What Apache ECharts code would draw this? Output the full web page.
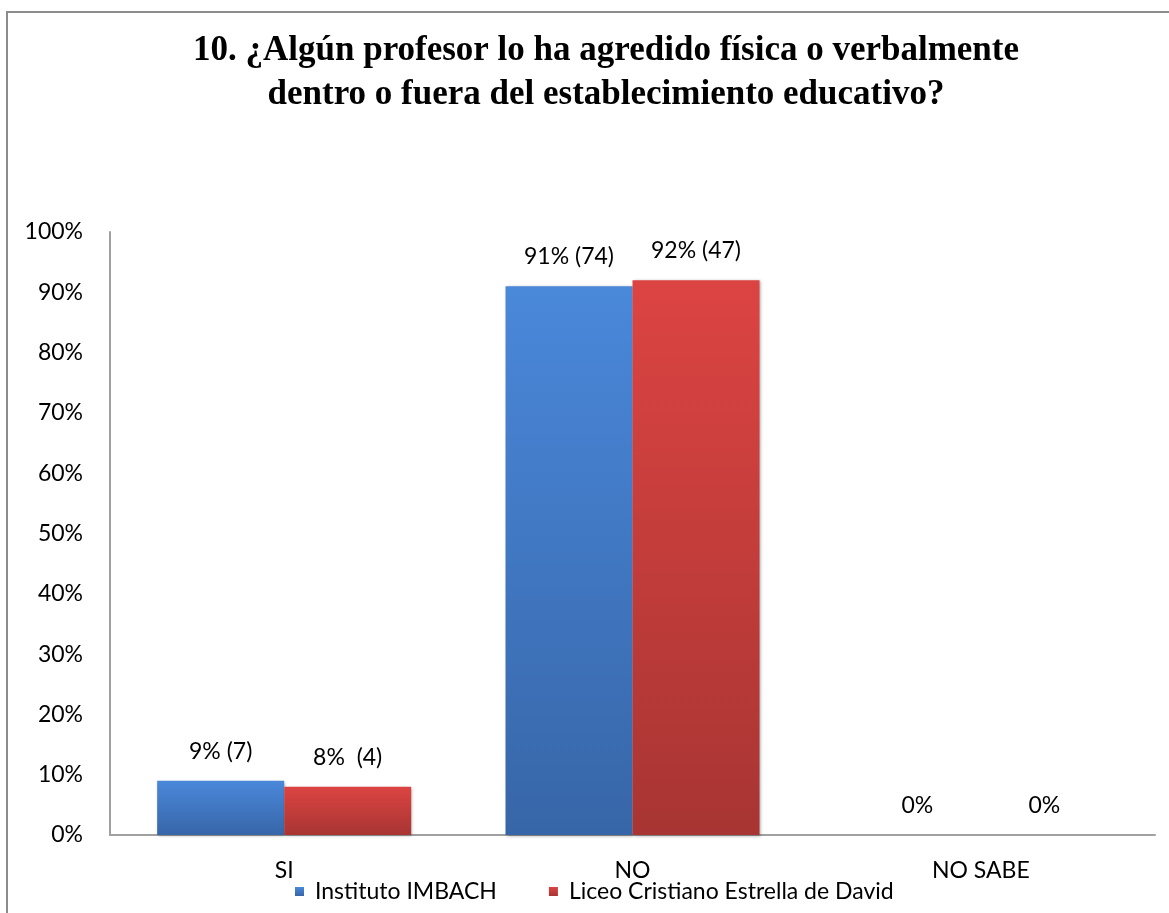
<!DOCTYPE html>
<html>
<head>
<meta charset="utf-8">
<script src="https://cdn.jsdelivr.net/npm/echarts@6/dist/echarts.min.js"></script>
<style>
  html, body { margin: 0; padding: 0; background: #fff; }
  #chart { width: 1169px; height: 913px; }
</style>
</head>
<body>
<div id="chart"></div>
<script>
// datos
var categorias = ["SI", "NO", "NO SABE"];
var imbach = [9, 91, 0];
var liceo = [8, 92, 0];
var etiquetasImbach = ["9% (7)", "91% (74)", "0%"];
var etiquetasLiceo = ["8%  (4)", "92% (47)", "0%"];
var nombres = ["Instituto IMBACH", "Liceo Cristiano Estrella de David"];

var fuente = "Lato, 'Open Sans', sans-serif";

function degradado(arriba, abajo) {
  return {
    type: "linear", x: 0, y: 0, x2: 0, y2: 1,
    colorStops: [
      { offset: 0, color: arriba },
      { offset: 1, color: abajo },
    ],
  };
}

var myChart = echarts.init(document.getElementById("chart"));

var option = {
  animation: false,
  backgroundColor: "#fff",
  title: {
    text: "10. ¿Algún profesor lo ha agredido física o verbalmente\ndentro o fuera del establecimiento educativo?",
    left: 601,
    textAlign: "center",
    top: 24,
    textStyle: {
      fontFamily: "'Liberation Serif', 'Times New Roman', serif",
      fontWeight: "bold",
      fontSize: 35,
      lineHeight: 44,
      color: "#000",
    },
  },
  graphic: [
    {
      type: "rect",
      shape: { x: 7, y: 12, width: 1300, height: 1000 },
      style: { fill: "none", stroke: "#8c8c8c", lineWidth: 2 },
      silent: true,
    },
  ],
  legend: {
    data: nombres,
    left: 290,
    top: 875,
    icon: "rect",
    itemWidth: 9,
    itemHeight: 9,
    itemGap: 52,
    textStyle: { fontFamily: fuente, fontSize: 23, color: "#000", padding: [0, 0, 0, 6] },
  },
  grid: {
    left: 110,
    right: 14,
    top: 232,
    bottom: 78,
  },
  xAxis: {
    type: "category",
    data: categorias,
    axisLine: { lineStyle: { color: "#a0a0a0", width: 2 } },
    axisTick: { show: false },
    axisLabel: { fontFamily: fuente, fontSize: 23, color: "#000", margin: 24 },
  },
  yAxis: {
    type: "value",
    min: 0,
    max: 100,
    interval: 10,
    axisLine: { show: true, lineStyle: { color: "#a0a0a0", width: 2 } },
    axisTick: { show: false },
    splitLine: { show: false },
    axisLabel: {
      formatter: "{value}%",
      fontFamily: fuente,
      fontSize: 23,
      color: "#000",
      margin: 27,
    },
  },
  series: [
    {
      name: nombres[0],
      type: "bar",
      data: imbach,
      barWidth: 127,
      barGap: "0%",
      itemStyle: {
        color: degradado("#4a88da", "#3766a8"),
        shadowColor: "rgba(0,0,0,0.35)",
        shadowBlur: 3,
        shadowOffsetX: 1,
        shadowOffsetY: 1,
      },
      label: {
        show: true,
        position: "top",
        distance: 18,
        fontFamily: fuente,
        fontSize: 23,
        color: "#000",
        formatter: function (p) { return etiquetasImbach[p.dataIndex]; },
      },
    },
    {
      name: nombres[1],
      type: "bar",
      data: liceo,
      barWidth: 127,
      itemStyle: {
        color: degradado("#dc4442", "#a83533"),
        shadowColor: "rgba(0,0,0,0.35)",
        shadowBlur: 3,
        shadowOffsetX: 1,
        shadowOffsetY: 1,
      },
      label: {
        show: true,
        position: "top",
        distance: 18,
        fontFamily: fuente,
        fontSize: 23,
        color: "#000",
        formatter: function (p) { return etiquetasLiceo[p.dataIndex]; },
      },
    },
  ],
};

myChart.setOption(option);
</script>
</body>
</html>
